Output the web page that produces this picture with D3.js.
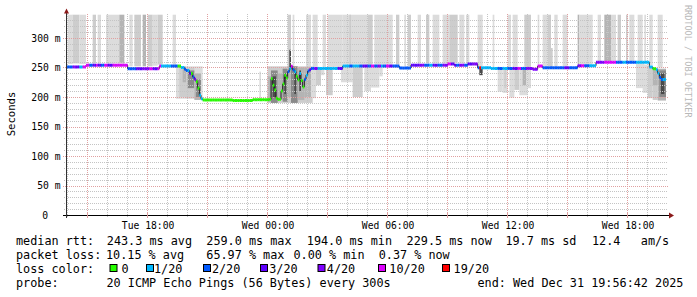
<!DOCTYPE html>
<html>
<head>
<meta charset="utf-8">
<script src="https://cdnjs.cloudflare.com/ajax/libs/d3/7.8.5/d3.min.js"></script>
<style>
body { margin: 0; background: #fff; }
svg text { font-family: 'DejaVu Sans Mono', monospace; fill: #000; }
</style>
</head>
<body>
<svg id="chart" width="697" height="297"></svg>
<script>
// Data ==================================================================
// one sample every 300s, 360 samples (30 hours) ending at the time below
var endTime = new Date(2025, 11, 31, 19, 56, 42);
var stepSec = 300;
var nSteps = 360;

// median rtt (ms): [first step of run, value]
var medianRuns = [
  [0, 251], [12, 254], [37, 248], [56, 252.5], [69, 250], [71, 247], [72, 245],
  [74, 240], [76, 234], [77, 230], [78, 226], [79, 215], [80, 203], [81, 197],
  [82, 195], [100, 194], [112, 195.5], [122, 196], [123, 231], [124, 220],
  [125, 212], [126, 198], [127, 196], [129, 210], [130, 222], [131, 237],
  [132, 232], [133, 243], [134, 248], [135, 252], [136, 246], [137, 243],
  [138, 235], [139, 229], [140, 240], [141, 228], [142, 217], [143, 230],
  [144, 237], [145, 244], [146, 246], [147, 248.5], [166, 252.5], [200, 249],
  [207, 254], [229, 256], [233, 254], [241, 256], [247, 249.5], [255, 248.5],
  [280, 247], [283, 252.5], [286, 249.5], [307, 253], [318, 258.8], [350, 251],
  [352, 248], [354, 246], [355, 240], [356, 233], [357, 229.5]
];

// lost pings out of 20: [first step of run, count]
var lossRuns = [
  [0, 2], [4, 4], [6, 3], [8, 1], [10, 10], [14, 2], [16, 3], [18, 10], [19, 3],
  [21, 2], [23, 10], [25, 3], [28, 10], [37, 2], [42, 3], [46, 4], [50, 10],
  [52, 3], [55, 10], [57, 1], [63, 2], [67, 0], [69, 1], [71, 2], [73, 1],
  [74, 3], [75, 0], [76, 2], [77, 4], [78, 0], [80, 1], [82, 0], [133, 2],
  [134, 1], [135, 10], [136, 2], [137, 1], [138, 0], [140, 1], [141, 0],
  [143, 2], [144, 1], [145, 2], [146, 3], [147, 2], [149, 4], [151, 1],
  [163, 3], [166, 1], [170, 2], [172, 1], [176, 2], [178, 3], [181, 2],
  [183, 10], [185, 2], [187, 4], [189, 1], [190, 2], [192, 10], [194, 3],
  [196, 2], [207, 3], [212, 4], [215, 2], [218, 1], [220, 3], [223, 2],
  [226, 4], [229, 10], [231, 3], [234, 2], [236, 4], [239, 2], [241, 3],
  [244, 4], [247, 2], [248, 19], [249, 1], [259, 2], [262, 1], [265, 2],
  [268, 3], [271, 10], [273, 2], [276, 4], [283, 10], [286, 2], [299, 3],
  [302, 2], [307, 4], [309, 10], [311, 2], [314, 1], [318, 4], [323, 10],
  [330, 2], [334, 1], [336, 2], [342, 1], [352, 0], [354, 1], [356, 2], [358, 1]
];

// smoke above the median, running off the top: [from step, to step, lo ms, hi ms, density]
var smokeUpper = [
  [1, 4, 256, 345, 1], [4, 8, 257, 345, 2], [8, 12, 256, 345, 1],
  [16, 18, 257, 345, 2], [19, 21, 257, 345, 1], [24, 32, 257, 345, 1],
  [32, 35, 257, 345, 3], [38, 40, 252, 345, 1], [41, 45, 252, 345, 2],
  [46, 48, 252, 345, 3], [49, 52, 252, 345, 2], [52, 55, 253, 345, 1],
  [55, 58, 255, 345, 2], [64, 66, 255, 345, 1], [133, 135, 250, 345, 2],
  [136, 137, 250, 345, 1], [144, 147, 250, 345, 1], [148, 151, 251, 345, 1],
  [154, 156, 251, 345, 1], [157, 166, 251, 345, 1], [166, 181, 255, 345, 1],
  [170, 171, 255, 345, 2], [181, 184, 255, 345, 2], [185, 192, 255, 345, 1],
  [192, 196, 255, 345, 1], [198, 200, 255, 345, 2], [203, 204, 252, 345, 1],
  [205, 207, 252, 345, 2], [211, 213, 257, 345, 1], [216, 218, 257, 345, 2],
  [220, 224, 257, 345, 1], [226, 230, 257, 345, 1], [230, 235, 258, 345, 2],
  [236, 239, 257, 345, 1], [240, 242, 257, 345, 1], [247, 250, 252, 345, 1],
  [256, 257, 251, 345, 1], [265, 267, 251, 345, 1], [268, 271, 251, 345, 1],
  [275, 279, 251, 345, 2], [283, 284, 255, 345, 1], [286, 289, 252, 345, 1],
  [289, 291, 252, 345, 2], [291, 292, 250, 283, 2], [293, 295, 252, 345, 1],
  [298, 301, 252, 345, 1], [307, 308, 255, 345, 3], [308, 316, 255, 345, 1],
  [319, 321, 261, 345, 1], [323, 327, 261, 345, 3], [327, 330, 261, 345, 1],
  [331, 333, 261, 345, 2], [336, 337, 261, 345, 2], [338, 341, 261, 345, 1],
  [343, 346, 261, 345, 1], [347, 348, 261, 345, 1], [350, 352, 254, 345, 1],
  [355, 358, 250, 345, 1]
];

// smoke below / around the median
var smokeLower = [
  [66, 82, 197, 252, 1],
  [66, 68, 208, 250, 1], [68, 72, 200, 252, 2], [70, 72, 225, 250, 3],
  [72, 77, 198, 250, 2], [73, 77, 215, 245, 4], [77, 81, 195, 240, 3],
  [78, 81, 200, 230, 4], [116, 117, 195, 243, 1],
  [121, 148, 190, 252, 2],
  [121, 123, 192, 235, 3], [123, 127, 190, 245, 4], [124, 126, 200, 235, 5],
  [127, 130, 195, 240, 3], [130, 133, 192, 248, 4], [131, 132, 205, 240, 5],
  [133, 135, 200, 252, 3], [134, 135, 248, 280, 5], [135, 139, 190, 252, 4],
  [137, 138, 205, 245, 5], [139, 143, 195, 250, 3], [140, 141, 210, 245, 5],
  [143, 147, 200, 250, 3],
  [147, 150, 198, 248, 1], [150, 153, 220, 248, 2], [153, 155, 237, 248, 1],
  [156, 160, 203, 248, 2], [165, 172, 225, 250, 1], [172, 178, 200, 250, 2],
  [179, 183, 210, 250, 1], [183, 188, 216, 250, 1], [188, 190, 235, 250, 1],
  [248, 250, 237, 250, 5], [259, 262, 209, 249, 1], [262, 265, 207, 249, 1],
  [263, 264, 215, 249, 2], [266, 269, 199, 249, 1], [269, 272, 212, 249, 2],
  [272, 277, 203, 249, 1], [274, 276, 220, 249, 3], [277, 279, 215, 249, 1],
  [342, 347, 215, 258, 1], [346, 349, 207, 255, 1], [349, 352, 198, 252, 2],
  [352, 355, 195, 250, 2], [352, 355, 220, 248, 3], [355, 360, 194, 248, 3],
  [356, 360, 200, 245, 4], [357, 359, 205, 240, 5]
];

// y axis
var yTicks = [0, 50, 100, 150, 200, 250, 300];
var yMax = 340;

// legend texts
var rttLabel = "median rtt:";
var rttStats = ["243.3 ms avg", "259.0 ms max", "194.0 ms min", "229.5 ms now", "19.7 ms sd", "12.4", "am/s"];
var lossLabel = "packet loss:";
var lossStats = ["10.15 % avg", "65.97 % max", "0.00 % min", "0.37 % now"];
var colorLabel = "loss color:";
var lossBuckets = ["0", "1/20", "2/20", "3/20", "4/20", "10/20", "19/20"];
var bucketColors = ["#26ff00", "#00b8ff", "#0059ff", "#5e00ff", "#7e00ff", "#dd00ff", "#ff0000"];
var probeLabel = "probe:";
var probeText = "20 ICMP Echo Pings (56 Bytes) every 300s";
var endText = "end: Wed Dec 31 19:56:42 2025";

// Layout ================================================================
var svg = d3.select("#chart");
var startTime = new Date(endTime.getTime() - nSteps * stepSec * 1000);
var x = d3.scaleTime().domain([startTime, endTime]).range([66, 666]);
var y = d3.scaleLinear().domain([0, yMax]).range([215, 14.4]);
function xs(s) { return x(new Date(startTime.getTime() + s * stepSec * 1000)); }
function px(v) { return Math.round(v) + 0.5; }

function runValue(runs, i) {
  var v = runs[0][1];
  for (var k = 0; k < runs.length; k++) {
    if (runs[k][0] <= i) v = runs[k][1];
  }
  return v;
}
function lossColor(n) {
  if (n == 0) return bucketColors[0];
  if (n == 1) return bucketColors[1];
  if (n == 2) return bucketColors[2];
  if (n == 3) return bucketColors[3];
  if (n < 10) return bucketColors[4];
  if (n < 19) return bucketColors[5];
  return bucketColors[6];
}
var shade = d3.scaleOrdinal().domain([1, 2, 3, 4, 5])
  .range(["#dcdcdc", "#cdcdcd", "#b4b4b4", "#8a8a8a", "#4a4a4a"]);

svg.append("defs").append("clipPath").attr("id", "plot")
  .append("rect").attr("x", 66).attr("y", 14.4).attr("width", 600).attr("height", 201);

// Smoke =================================================================
var smoke = svg.append("g").attr("clip-path", "url(#plot)");
smoke.selectAll("rect.up").data(smokeUpper).enter().append("rect")
  .attr("x", function(d) { return xs(d[0]); })
  .attr("width", function(d) { return xs(d[1]) - xs(d[0]); })
  .attr("y", function(d) { return y(Math.min(d[3], yMax)); })
  .attr("height", function(d) { return y(d[2]) - y(Math.min(d[3], yMax)); })
  .attr("fill", function(d) { return shade(d[4]); });
smoke.selectAll("rect.lo").data(smokeLower).enter().append("rect")
  .attr("x", function(d) { return xs(d[0]); })
  .attr("width", function(d) { return xs(d[1]) - xs(d[0]); })
  .attr("y", function(d) { return y(d[3]); })
  .attr("height", function(d) { return y(d[2]) - y(d[3]); })
  .attr("fill", function(d) { return shade(d[4]); });

// Grid ==================================================================
var grid = svg.append("g");
var minorY = d3.range(10, yMax, 10).filter(function(v) { return v % 50 != 0; });
grid.selectAll("line.my").data(minorY).enter().append("line")
  .attr("x1", 64).attr("x2", 668)
  .attr("y1", function(d) { return px(y(d)); }).attr("y2", function(d) { return px(y(d)); })
  .attr("stroke", "#c4c4c4").attr("stroke-dasharray", "1,1");
var hours = d3.timeHour.range(d3.timeHour.ceil(startTime), endTime);
grid.selectAll("line.mx").data(hours.filter(function(d) { return d.getHours() % 3 != 0; }))
  .enter().append("line")
  .attr("x1", function(d) { return px(x(d)); }).attr("x2", function(d) { return px(x(d)); })
  .attr("y1", 14).attr("y2", 217)
  .attr("stroke", "#c4c4c4").attr("stroke-dasharray", "1,1");
grid.selectAll("line.My").data(yTicks.filter(function(v) { return v > 0; })).enter().append("line")
  .attr("x1", 63).attr("x2", 669)
  .attr("y1", function(d) { return px(y(d)); }).attr("y2", function(d) { return px(y(d)); })
  .attr("stroke", "#e0a0a0").attr("stroke-dasharray", "1,1");
var majors = hours.filter(function(d) { return d.getHours() % 3 == 0; });
grid.selectAll("line.Mx").data(majors).enter().append("line")
  .attr("x1", function(d) { return px(x(d)); }).attr("x2", function(d) { return px(x(d)); })
  .attr("y1", 14).attr("y2", 215)
  .attr("stroke", "#e0a0a0").attr("stroke-dasharray", "1,1");

// Median ================================================================
var steps = d3.range(nSteps);
var pts = [];
steps.forEach(function(i) {
  var v = runValue(medianRuns, i);
  pts.push([xs(i), y(v)]);
  pts.push([xs(i + 1), y(v)]);
});
svg.append("path")
  .attr("d", d3.line()(pts))
  .attr("fill", "none").attr("stroke", "#202020").attr("stroke-width", 1);
svg.append("g").selectAll("line").data(steps).enter().append("line")
  .attr("x1", function(i) { return xs(i); })
  .attr("x2", function(i) { return xs(i + 1); })
  .attr("y1", function(i) { return y(runValue(medianRuns, i)); })
  .attr("y2", function(i) { return y(runValue(medianRuns, i)); })
  .attr("stroke", function(i) { return lossColor(runValue(lossRuns, i)); })
  .attr("stroke-width", 3);

// Axes ==================================================================
var axes = svg.append("g");
axes.append("line").attr("x1", 63).attr("x2", 670).attr("y1", 215.5).attr("y2", 215.5)
  .attr("stroke", "#000");
axes.append("line").attr("x1", 66.5).attr("x2", 66.5).attr("y1", 12).attr("y2", 218)
  .attr("stroke", "#333");
axes.selectAll("line.tk").data(majors).enter().append("line")
  .attr("x1", function(d) { return px(x(d)); }).attr("x2", function(d) { return px(x(d)); })
  .attr("y1", 213).attr("y2", 218).attr("stroke", "#e0a0a0");
axes.append("path").attr("d", "M64,13.5L66.5,8.5L69,13.5Z").attr("fill", "#8b1a1a");
axes.append("path").attr("d", "M669,212.5L674,215.5L669,218.5Z").attr("fill", "#8b1a1a");

var fmt = d3.timeFormat("%a %H:%M");
axes.selectAll("text.xl").data(majors.filter(function(d) { return d.getHours() % 6 == 0; }))
  .enter().append("text")
  .attr("x", function(d) { return x(d) + 1; }).attr("y", 228.5)
  .attr("text-anchor", "middle").attr("font-size", "9.7px")
  .text(function(d) { return fmt(d); });
axes.selectAll("text.yl").data(yTicks).enter().append("text")
  .attr("x", function(d) { return d == 0 ? 48 : 60.5; })
  .attr("y", function(d) { return y(d) + 3.6; })
  .attr("text-anchor", "end").attr("font-size", "9.7px")
  .text(function(d) { return d == 0 ? "0" : d + " m"; });
axes.append("text").attr("transform", "translate(14.5,114) rotate(-90)")
  .attr("text-anchor", "middle").attr("font-size", "10.6px").text("Seconds");
axes.append("text").attr("transform", "translate(684.5,5) rotate(90)")
  .attr("font-size", "8.5px").style("fill", "#b8b8b8").text("RRDTOOL / TOBI OETIKER");

// Legend ================================================================
var leg = svg.append("g").attr("font-size", "11.8px").style("white-space", "pre");
var rttX = [106.8, 206.3, 306.8, 406.6, 505.4, 592, 640.8];
var lossX = [106, 206.3, 293.5, 378.7];
var boxX = [109.5, 146, 203, 260, 317.5, 378, 442];
var bucketX = [121.5, 154, 211.9, 269.2, 326.8, 389.3, 453.6];
var rows = [244.5, 258.5, 272.5, 286.7];

leg.append("text").attr("x", 16).attr("y", rows[0]).text(rttLabel);
rttStats.forEach(function(t, i) {
  leg.append("text").attr("x", rttX[i]).attr("y", rows[0]).text(t);
});
leg.append("text").attr("x", 16).attr("y", rows[1]).text(lossLabel);
lossStats.forEach(function(t, i) {
  leg.append("text").attr("x", lossX[i]).attr("y", rows[1]).text(t);
});
leg.append("text").attr("x", 16).attr("y", rows[2]).text(colorLabel);
lossBuckets.forEach(function(t, i) {
  leg.append("rect").attr("x", boxX[i] + 0.5).attr("y", 264.5).attr("width", 7).attr("height", 7)
    .attr("fill", bucketColors[i]).attr("stroke", "#000").attr("stroke-width", 1);
  leg.append("text").attr("x", bucketX[i]).attr("y", rows[2]).text(t);
});
leg.append("text").attr("x", 16).attr("y", rows[3]).text(probeLabel);
leg.append("text").attr("x", 106.5).attr("y", rows[3]).text(probeText);
leg.append("text").attr("x", 477.5).attr("y", rows[3]).text(endText);
</script>
</body>
</html>
